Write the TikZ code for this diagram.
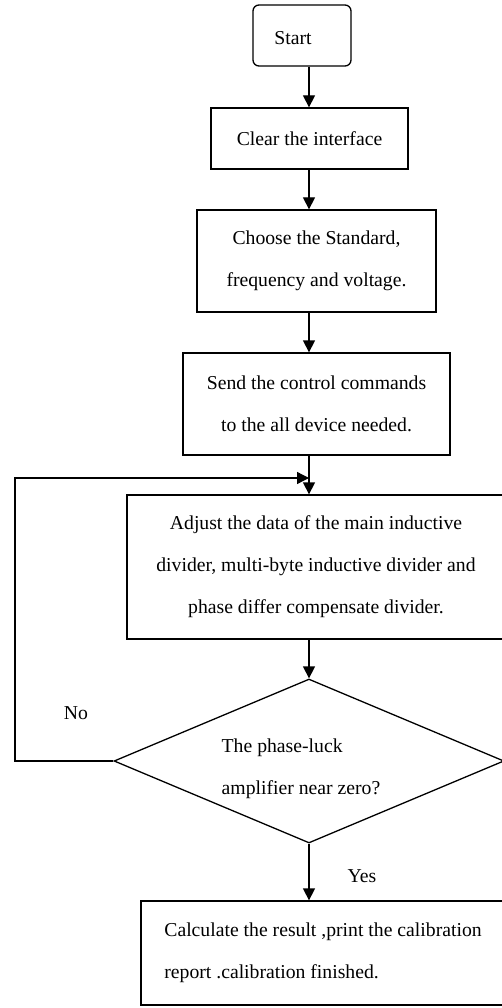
\documentclass[tikz,border=0pt]{standalone}
\usepackage{fontspec}
\setmainfont{Liberation Serif}
\usetikzlibrary{arrows.meta,shapes.geometric}

\begin{document}
\begin{tikzpicture}[x=1pt,y=-1pt,
  flow/.style={draw,line width=1.3pt,inner sep=0pt,font=\fontsize{19.7}{42}\selectfont},
  procbox/.style={flow,rectangle,align=center},
  arrowline/.style={line width=1.3pt,-{Triangle[length=12pt,width=12pt]}},
  tag/.style={font=\fontsize{19.7}{42}\selectfont}]
	%%%%% START %%%%%
	\useasboundingbox (0,0) rectangle (501,1008);
	\coordinate (spine) at (309,0);

	\node[flow,rounded corners=6pt,minimum width=98pt,minimum height=61pt] (start) at (302,35.5) {};
	\node[tag] (starttext) at (293,38) {Start};
	\node[procbox,minimum width=197pt,minimum height=61pt] (clear) at (309.5,138.5) {Clear the interface};
	\node[procbox,minimum width=239pt,minimum height=102pt] (choose) at (316.5,261) {Choose the Standard,\\frequency and voltage.};
	\node[procbox,minimum width=267pt,minimum height=102pt] (send) at (316.5,404) {Send the control commands\\to the all device needed.};
	\node[procbox,minimum width=378pt,minimum height=144pt] (adjust) at (316,567) {Adjust the data of the main inductive\\divider, multi-byte inductive divider and\\phase differ compensate divider.};
	\node[flow,diamond,aspect=2.4,minimum width=390pt,minimum height=164pt] (decide) at (309,761) {};
	\node[tag,align=left] (decidetext) at (301,769) {The phase-luck\\amplifier near zero?};
	\node[procbox,align=left,minimum width=364pt,minimum height=104pt] (finish) at (323,953) {Calculate the result ,print the calibration\\report .calibration finished.};

	\node[tag] (nolabel) at (76,713) {No};
	\node[tag] (yeslabel) at (362,876) {Yes};

	% main line
	\draw[arrowline] (start.south -| spine) -- (clear.north -| spine);
	\draw[arrowline] (clear.south -| spine) -- (choose.north -| spine);
	\draw[arrowline] (choose.south -| spine) -- (send.north -| spine);
	\draw[arrowline] (send.south -| spine) -- (adjust.north -| spine);
	\draw[arrowline] (adjust.south -| spine) -- (decide.north);
	\draw[arrowline] (decide.south) -- (finish.north -| decide.south);

	% loop back
	\coordinate (loop) at (15,478);
	\coordinate (join) at (309,478);
	\draw[arrowline] (decide.west) -- (loop |- decide.west) -- (loop) -- (join);
	%%%%% END %%%%%
\end{tikzpicture}
\end{document}
